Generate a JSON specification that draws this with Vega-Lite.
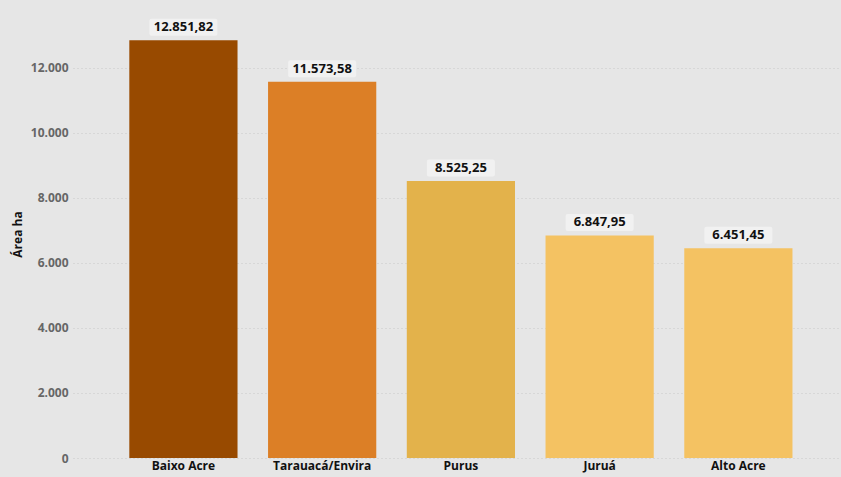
{
  "$schema": "https://vega.github.io/schema/vega-lite/v6.json",
  "width": 765,
  "height": 448,
  "autosize": {"type": "none"},
  "padding": {"left": 73, "top": 10, "right": 3, "bottom": 19},
  "background": "#e6e6e6",
  "config": {
    "view": {"stroke": null},
    "font": "Open Sans",
    "locale": {"number": {"decimal": ",", "thousands": ".", "grouping": [3], "currency": ["R$", ""]}}
  },
  "data": {
    "values": [
      {"regional": "Baixo Acre", "area": 12851.82},
      {"regional": "Tarauacá/Envira", "area": 11573.58},
      {"regional": "Purus", "area": 8525.25},
      {"regional": "Juruá", "area": 6847.95},
      {"regional": "Alto Acre", "area": 6451.45}
    ]
  },
  "encoding": {
    "x": {
      "field": "regional",
      "type": "nominal",
      "sort": null,
      "scale": {"paddingInner": 0.22, "paddingOuter": 0.367, "align": 0.553},
      "axis": {
        "title": null,
        "labelAngle": 0,
        "labelFont": "Open Sans",
        "labelFontWeight": "bold",
        "labelFontSize": 12,
        "labelColor": "#111111",
        "labelPadding": 2,
        "ticks": false,
        "domain": false
      }
    },
    "y": {
      "field": "area",
      "type": "quantitative",
      "scale": {"domain": [0, 13784], "nice": false},
      "axis": {
        "title": "Área ha",
        "titleFont": "Open Sans",
        "titleFontWeight": "bold",
        "titleFontSize": 12,
        "titleColor": "#111111",
        "titlePadding": 6,
        "values": [0, 2000, 4000, 6000, 8000, 10000, 12000],
        "format": ",d",
        "labelFont": "Open Sans",
        "labelFontWeight": "bold",
        "labelFontSize": 12,
        "labelColor": "#666666",
        "labelPadding": 5,
        "ticks": false,
        "domain": false,
        "grid": true,
        "gridColor": "#c8c8c8",
        "gridDash": [1, 3],
        "gridWidth": 1
      }
    }
  },
  "layer": [
    {
      "mark": {"type": "bar"},
      "encoding": {
        "color": {
          "field": "regional",
          "type": "nominal",
          "sort": null,
          "legend": null,
          "scale": {
            "domain": ["Baixo Acre", "Tarauacá/Envira", "Purus", "Juruá", "Alto Acre"],
            "range": ["#984a00", "#dc7f26", "#e3b24b", "#f4c262", "#f4c262"]
          }
        }
      }
    },
    {
      "mark": {
        "type": "point",
        "shape": "M-0.94,-0.25 L0.94,-0.25 Q1,-0.25 1,-0.19 L1,0.19 Q1,0.25 0.94,0.25 L-0.94,0.25 Q-1,0.25 -1,0.19 L-1,-0.19 Q-1,-0.25 -0.94,-0.25 Z",
        "size": 4624,
        "filled": true,
        "fill": "#f1f1f1",
        "opacity": 1,
        "strokeWidth": 0,
        "yOffset": -13
      }
    },
    {
      "mark": {
        "type": "text",
        "font": "Open Sans",
        "fontWeight": "bold",
        "fontSize": 13,
        "color": "#111111",
        "baseline": "middle",
        "dy": -13
      },
      "encoding": {
        "text": {"field": "area", "type": "quantitative", "format": ",.2f"}
      }
    }
  ]
}
